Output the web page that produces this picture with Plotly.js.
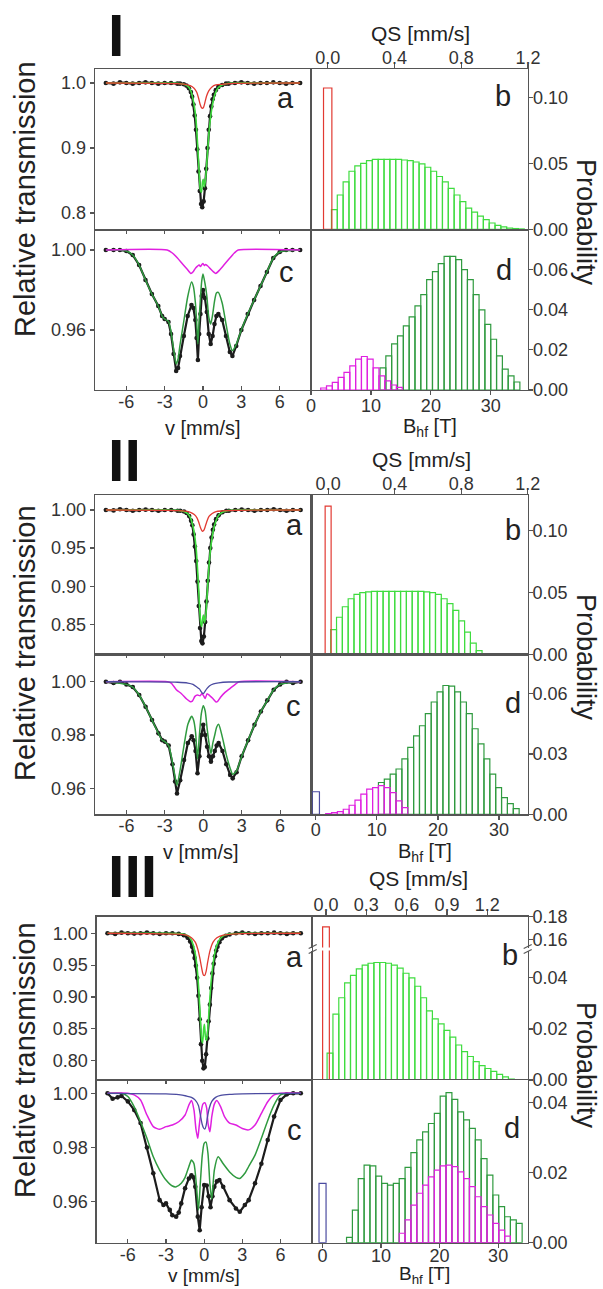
<!DOCTYPE html>
<html><head><meta charset="utf-8">
<script src="https://cdn.plot.ly/plotly-3.0.1.min.js"></script>
<style>html,body{margin:0;padding:0;background:#fff}#plot{width:603px;height:1289px}</style>
</head><body><div id="plot"></div>
<script>
// ---------------- DATA ----------------
// Section I, panel a (velocity mm/s, relative transmission)
const s1a_data_v = [-7.6,-7,-6.5,-6,-5.5,-5,-4.5,-4,-3.5,-3,-2.5,-2,-1.8,-1.5,-1.3,-1.1,-0.95,-0.85,-0.75,-0.65,-0.55,-0.45,-0.35,-0.25,-0.15,-0.06,0.05,0.15,0.25,0.35,0.45,0.55,0.65,0.75,0.85,1.0,1.2,1.5,1.8,2.0,2.5,3,3.5,4,4.5,5,5.5,6,6.5,7,7.6];
const s1a_data_T = [1.000,0.999,1.001,1.000,0.999,1.000,1.001,1.000,0.999,1.000,1.000,0.999,0.999,0.998,0.996,0.992,0.986,0.979,0.967,0.950,0.928,0.898,0.864,0.834,0.814,0.809,0.818,0.838,0.868,0.900,0.928,0.949,0.964,0.975,0.982,0.989,0.994,0.997,0.999,0.999,1.000,1.001,1.000,0.999,1.000,1.000,1.001,1.000,0.999,1.000,1.000];
const s1a_green_v = [-7.6,-3,-2,-1.5,-1.2,-1.0,-0.85,-0.7,-0.55,-0.42,-0.3,-0.2,-0.12,-0.04,0.02,0.1,0.2,0.3,0.42,0.55,0.7,0.85,1.0,1.2,1.5,2,3,7.6];
const s1a_green_T = [1.000,1.000,0.9995,0.998,0.995,0.990,0.981,0.967,0.944,0.905,0.862,0.835,0.832,0.848,0.852,0.840,0.852,0.878,0.912,0.940,0.962,0.977,0.986,0.993,0.997,0.9995,1.000,1.000];
const s1a_red_v = [-7.6,-3,-2,-1.4,-1.0,-0.7,-0.5,-0.35,-0.22,-0.12,-0.05,0.05,0.15,0.28,0.45,0.7,1.0,1.5,2.5,7.6];
const s1a_red_T = [1.000,0.9995,0.999,0.998,0.996,0.992,0.986,0.977,0.967,0.962,0.961,0.963,0.970,0.980,0.988,0.994,0.997,0.998,0.9995,1.000];
// Section I, panel c
const s1c_data_v = [-7.6,-7,-6.5,-6,-5.5,-5,-4.5,-4,-3.5,-3.2,-3,-2.7,-2.5,-2.3,-2.1,-1.95,-1.8,-1.5,-1.2,-0.9,-0.75,-0.6,-0.5,-0.4,-0.3,-0.2,-0.1,0,0.15,0.3,0.45,0.6,0.75,0.9,1.05,1.2,1.5,1.8,2.1,2.3,2.6,3,3.5,4,4.5,5,5.5,6,6.5,7,7.6];
const s1c_data_T = [1.000,1.000,1.000,0.9995,0.9975,0.9925,0.985,0.978,0.972,0.967,0.9655,0.964,0.958,0.948,0.9395,0.941,0.947,0.957,0.967,0.9725,0.971,0.965,0.956,0.945,0.958,0.968,0.977,0.980,0.976,0.969,0.958,0.953,0.957,0.963,0.967,0.968,0.965,0.957,0.949,0.947,0.952,0.960,0.968,0.975,0.982,0.989,0.996,0.999,1.000,1.000,1.000];
const s1c_green_v = [-7.6,-6,-5.5,-5,-4.5,-4,-3.5,-3.2,-3,-2.7,-2.5,-2.3,-2.1,-1.95,-1.8,-1.5,-1.2,-0.9,-0.75,-0.6,-0.5,-0.4,-0.3,-0.2,-0.1,0,0.15,0.3,0.45,0.6,0.75,0.9,1.05,1.2,1.5,1.8,2.1,2.3,2.6,3,3.5,4,4.5,5,5.5,6,7.6];
const s1c_green_T = [1.000,0.9995,0.9975,0.9925,0.985,0.978,0.972,0.967,0.9655,0.9643,0.959,0.9505,0.943,0.9455,0.9525,0.9645,0.9765,0.984,0.9817,0.974,0.9645,0.953,0.9655,0.976,0.9844,0.988,0.9835,0.977,0.9665,0.963,0.9675,0.9743,0.9785,0.9788,0.9735,0.963,0.953,0.9497,0.9528,0.960,0.968,0.975,0.982,0.989,0.996,0.999,1.000];
const s1c_mag_v = [-7.6,-2.8,-2.4,-2.0,-1.6,-1.25,-0.95,-0.75,-0.6,-0.45,-0.3,-0.2,-0.1,0,0.1,0.2,0.35,0.55,0.8,1.0,1.3,1.7,2.1,2.45,2.75,7.6];
const s1c_mag_T = [1.000,1.000,0.9985,0.996,0.993,0.9905,0.9883,0.9893,0.9908,0.9918,0.9925,0.9917,0.9926,0.9933,0.9922,0.9928,0.9921,0.9908,0.9892,0.9883,0.990,0.993,0.996,0.9985,1.000,1.000];
// Section I, panel b (QS mm/s, probability)
const s1b_red_qs = [0.0];
const s1b_red_p = [0.107];
const s1b_green_qs = [0.040,0.075,0.110,0.145,0.180,0.215,0.250,0.285,0.320,0.355,0.390,0.425,0.460,0.495,0.530,0.565,0.600,0.635,0.670,0.705,0.740,0.775,0.810,0.845,0.880,0.915,0.950,0.985,1.020,1.055,1.090,1.125,1.160];
const s1b_green_p = [0.015,0.026,0.036,0.044,0.048,0.050,0.052,0.053,0.053,0.053,0.053,0.053,0.0525,0.052,0.051,0.0495,0.047,0.044,0.040,0.036,0.031,0.026,0.021,0.016,0.013,0.010,0.0073,0.0048,0.003,0.0018,0.001,0.0006,0.0003];
// Section I, panel d (Bhf T, probability)
const s1d_green_b = [12.00,12.97,13.94,14.92,15.89,16.86,17.83,18.80,19.78,20.75,21.72,22.69,23.66,24.64,25.61,26.58,27.55,28.52,29.50,30.47,31.44,32.41,33.38,34.36];
const s1d_green_p = [0.011,0.017,0.023,0.027,0.032,0.0365,0.042,0.0476,0.055,0.059,0.063,0.0666,0.0666,0.065,0.060,0.055,0.0476,0.040,0.0327,0.0253,0.017,0.0104,0.007,0.004];
const s1d_mag_b = [2.10,3.07,4.04,5.02,5.99,6.96,7.93,8.90,9.88,10.85,11.82,12.79,13.76,14.74];
const s1d_mag_p = [0.001,0.0021,0.0038,0.0063,0.0088,0.012,0.0154,0.0167,0.0154,0.011,0.007,0.0046,0.0025,0.0013];

// Section II
const s2a_data_v = s1a_data_v.slice();
const s2a_data_T = [1.000,0.9995,1.001,1.000,0.999,1.000,1.0005,1.000,0.999,1.000,1.000,0.999,0.999,0.998,0.996,0.992,0.986,0.980,0.968,0.952,0.933,0.906,0.874,0.845,0.828,0.825,0.834,0.853,0.880,0.907,0.931,0.950,0.964,0.974,0.981,0.988,0.993,0.997,0.999,0.999,1.000,1.0005,1.000,0.999,1.000,1.000,1.001,1.000,0.999,1.000,1.000];
const s2a_green_v = s1a_green_v.slice();
const s2a_green_T = [1.000,1.000,0.9995,0.998,0.995,0.990,0.982,0.970,0.949,0.915,0.877,0.852,0.847,0.858,0.862,0.852,0.862,0.888,0.920,0.946,0.965,0.978,0.986,0.993,0.997,0.9995,1.000,1.000];
const s2a_red_v = s1a_red_v.slice();
const s2a_red_T = [1.000,0.9996,0.9993,0.9985,0.997,0.994,0.990,0.984,0.977,0.9733,0.972,0.9735,0.978,0.985,0.9915,0.9955,0.998,0.9988,0.9996,1.000];
const s2c_data_v = [-7.6,-7,-6.5,-6,-5.5,-5,-4.5,-4,-3.5,-3.2,-3,-2.7,-2.4,-2.2,-2.05,-1.8,-1.5,-1.2,-0.9,-0.75,-0.6,-0.45,-0.3,-0.15,0,0.15,0.3,0.45,0.6,0.75,0.9,1.05,1.2,1.5,1.8,2.1,2.3,2.6,3,3.5,4,4.5,5,5.5,6,6.5,7,7.6];
const s2c_data_T = [1.000,0.9995,1.000,0.999,0.998,0.995,0.9906,0.9856,0.9806,0.978,0.9775,0.976,0.969,0.9625,0.958,0.963,0.9706,0.977,0.9795,0.978,0.974,0.9656,0.972,0.980,0.9838,0.980,0.9756,0.972,0.970,0.972,0.974,0.976,0.977,0.974,0.969,0.965,0.9637,0.966,0.972,0.978,0.9838,0.9888,0.993,0.997,0.999,1.000,0.9995,1.000];
const s2c_green_v = [-7.6,-6,-5.5,-5,-4.5,-4,-3.5,-3.2,-3,-2.7,-2.4,-2.2,-2.05,-1.8,-1.5,-1.2,-0.9,-0.75,-0.6,-0.45,-0.3,-0.15,0,0.15,0.3,0.45,0.6,0.75,0.9,1.05,1.2,1.5,1.8,2.1,2.3,2.6,3,3.5,4,4.5,5,5.5,6,7.6];
const s2c_green_T = [1.000,0.999,0.998,0.995,0.9906,0.9856,0.9806,0.978,0.9775,0.976,0.9696,0.9643,0.961,0.967,0.9761,0.984,0.987,0.9855,0.981,0.971,0.980,0.988,0.991,0.989,0.9826,0.977,0.973,0.977,0.980,0.983,0.984,0.979,0.9725,0.9675,0.9652,0.9665,0.972,0.978,0.9838,0.9888,0.993,0.997,0.999,1.000];
const s2c_mag_v = [-7.6,-2.8,-2.5,-2.1,-1.7,-1.3,-1.0,-0.85,-0.65,-0.45,-0.25,-0.1,0.05,0.15,0.3,0.5,0.75,1.0,1.1,1.35,1.7,2.1,2.5,2.8,7.6];
const s2c_mag_T = [1.000,1.000,0.9995,0.997,0.9955,0.9935,0.9925,0.9927,0.9945,0.995,0.9947,0.9956,0.9945,0.9937,0.9955,0.9948,0.9937,0.9924,0.9925,0.9942,0.996,0.9975,0.999,1.000,1.000];
const s2c_blue_v = [-7.6,-2,-1.2,-0.8,-0.5,-0.3,-0.15,-0.05,0.05,0.15,0.3,0.5,0.8,1.2,2,7.6];
const s2c_blue_T = [1.000,0.9998,0.9995,0.999,0.998,0.9973,0.9962,0.9956,0.9957,0.9965,0.9975,0.9985,0.9992,0.9996,0.9999,1.000];
const s2b_red_qs = [0.0];
const s2b_red_p = [0.120];
const s2b_green_qs = [0.033,0.068,0.103,0.138,0.173,0.208,0.243,0.278,0.313,0.348,0.383,0.418,0.453,0.488,0.523,0.558,0.593,0.628,0.663,0.698,0.733,0.768,0.803,0.838,0.873,0.908];
const s2b_green_p = [0.020,0.030,0.0385,0.045,0.0485,0.050,0.0505,0.051,0.051,0.051,0.051,0.051,0.051,0.051,0.051,0.051,0.0505,0.050,0.0485,0.045,0.041,0.0355,0.027,0.018,0.009,0.003];
const s2d_blue_b = [0];
const s2d_blue_p = [0.0112];
const s2d_mag_b = [2.10,3.06,4.02,4.98,5.94,6.90,7.86,8.82,9.78,10.74,11.70,12.66,13.62,14.58];
const s2d_mag_p = [0.0003,0.0008,0.0013,0.0025,0.0045,0.007,0.010,0.0125,0.0133,0.0142,0.0133,0.0108,0.0067,0.0033];
const s2d_green_b = [10.74,11.70,12.66,13.62,14.58,15.54,16.50,17.46,18.42,19.38,20.34,21.30,22.26,23.22,24.18,25.14,26.10,27.06,28.02,28.98,29.94,30.90,31.86,32.82];
const s2d_green_p = [0.0158,0.0175,0.020,0.0225,0.0275,0.0333,0.039,0.044,0.050,0.0558,0.0608,0.064,0.0637,0.0608,0.0558,0.050,0.0425,0.035,0.0275,0.020,0.0133,0.0083,0.0053,0.0028];

// Section III
const s3a_data_v = [-7.6,-7,-6.5,-6,-5.5,-5,-4.5,-4,-3.5,-3,-2.5,-2,-1.6,-1.3,-1.1,-0.95,-0.85,-0.75,-0.65,-0.55,-0.45,-0.35,-0.25,-0.15,-0.05,0.05,0.15,0.25,0.35,0.45,0.55,0.65,0.75,0.85,0.95,1.05,1.2,1.4,1.7,2,2.5,3,3.5,4,4.5,5,5.5,6,6.5,7,7.6];
const s3a_data_T = [1.000,0.999,1.001,1.000,0.9995,1.000,1.001,1.000,0.999,1.000,1.000,0.999,0.997,0.993,0.987,0.979,0.971,0.961,0.949,0.930,0.902,0.865,0.826,0.800,0.788,0.790,0.810,0.835,0.862,0.888,0.914,0.937,0.952,0.964,0.973,0.979,0.986,0.992,0.996,0.998,1.000,1.001,1.000,0.999,1.000,1.000,1.001,1.000,0.999,1.000,1.000];
const s3a_green_v = s1a_green_v.slice();
const s3a_green_T = [1.000,1.000,0.9995,0.998,0.995,0.989,0.981,0.968,0.945,0.910,0.866,0.834,0.828,0.850,0.857,0.838,0.832,0.852,0.890,0.925,0.952,0.970,0.981,0.990,0.996,0.999,1.000,1.000];
const s3a_red_v = s1a_red_v.slice();
const s3a_red_T = [1.000,0.9992,0.9985,0.997,0.993,0.986,0.975,0.962,0.948,0.938,0.934,0.934,0.940,0.955,0.972,0.986,0.993,0.997,0.9992,1.000];
const s3c_data_v = [-7.6,-7.2,-6.8,-6.5,-6,-5.5,-5,-4.5,-4,-3.5,-3.2,-3,-2.7,-2.5,-2.2,-2,-1.8,-1.5,-1.2,-1,-0.85,-0.7,-0.5,-0.35,-0.2,0,0.2,0.35,0.5,0.65,0.8,1.0,1.2,1.5,2,2.5,2.8,3.2,3.5,4,4.5,5,5.5,6,6.5,7,7.6];
const s3c_data_T = [1.000,0.998,0.9985,0.999,0.997,0.9938,0.989,0.980,0.9705,0.9606,0.9588,0.9594,0.957,0.955,0.9545,0.956,0.9594,0.965,0.9686,0.9698,0.969,0.9655,0.9545,0.9495,0.958,0.9662,0.966,0.962,0.958,0.962,0.9655,0.9675,0.968,0.9655,0.9606,0.9575,0.9563,0.9588,0.9606,0.9668,0.974,0.9828,0.9914,0.9975,0.9996,1.000,1.000];
const s3c_green_v = [-7.6,-6.5,-6,-5.5,-5,-4.5,-4,-3.5,-3,-2.5,-2.2,-1.8,-1.5,-1.2,-1,-0.8,-0.6,-0.45,-0.3,-0.15,0,0.15,0.3,0.45,0.6,0.8,1.1,1.5,2,2.5,2.8,3.2,3.5,4,4.5,5,5.5,6,6.5,7.6];
const s3c_green_T = [1.000,1.000,0.9988,0.995,0.9895,0.9834,0.9766,0.9717,0.968,0.9658,0.9655,0.9668,0.969,0.973,0.9754,0.974,0.9655,0.957,0.967,0.977,0.9815,0.982,0.9778,0.9668,0.961,0.9717,0.9766,0.974,0.971,0.969,0.9686,0.9705,0.973,0.9772,0.9834,0.990,0.9957,0.9994,1.000,1.000];
const s3c_mag_v = [-7.6,-6,-5.5,-5,-4.5,-4,-3.5,-3,-2.5,-2,-1.5,-1.2,-1,-0.8,-0.65,-0.5,-0.4,-0.3,-0.1,0.05,0.2,0.3,0.45,0.6,0.8,1.0,1.3,1.6,2,2.5,3,3.5,4,4.5,5,5.5,6,7.6];
const s3c_mag_T = [1.000,1.000,0.9994,0.9975,0.992,0.9877,0.9867,0.9877,0.9883,0.9895,0.992,0.9957,0.9973,0.9938,0.987,0.9834,0.9875,0.9914,0.996,0.9965,0.9945,0.989,0.9858,0.9914,0.996,0.9973,0.995,0.9914,0.989,0.9883,0.987,0.9865,0.9883,0.9926,0.9969,0.9994,1.000,1.000];
const s3c_blue_v = [-7.6,-3,-2,-1.4,-1,-0.7,-0.45,-0.3,-0.15,-0.05,0.05,0.15,0.25,0.4,0.6,0.9,1.3,2,3,7.6];
const s3c_blue_T = [1.000,0.9998,0.9995,0.999,0.9985,0.9975,0.9955,0.992,0.9885,0.9872,0.9868,0.988,0.991,0.9945,0.997,0.9985,0.9992,0.9996,0.9998,1.000];
const s3b_red_qs = [0.0];
const s3b_red_p = [0.171];
const s3b_green_qs = [0.030,0.0735,0.117,0.1605,0.204,0.2475,0.291,0.3345,0.378,0.4215,0.465,0.5085,0.552,0.5955,0.639,0.6825,0.726,0.7695,0.813,0.8565,0.900,0.9435,0.987,1.0305,1.074,1.1175,1.161,1.2045,1.248,1.2915,1.335,1.3785];
const s3b_green_p = [0.0105,0.0258,0.0322,0.038,0.041,0.0435,0.045,0.0457,0.046,0.046,0.0457,0.045,0.0438,0.0418,0.040,0.0367,0.0322,0.0271,0.0239,0.022,0.0194,0.0168,0.0137,0.0111,0.0092,0.0072,0.0056,0.0045,0.0034,0.0022,0.0012,0.0004];
const s3d_blue_b = [0];
const s3d_blue_p = [0.0169];
const s3d_green_b = [4.6,5.6,6.6,7.6,8.6,9.6,10.6,11.6,12.6,13.6,14.6,15.6,16.6,17.6,18.6,19.6,20.6,21.6,22.6,23.6,24.6,25.6,26.6,27.6,28.6,29.6,30.6,31.6,32.6,33.6];
const s3d_green_p = [0.0015,0.0093,0.0183,0.0221,0.0219,0.019,0.0169,0.0164,0.0169,0.0183,0.0215,0.0257,0.0293,0.0316,0.034,0.0369,0.0418,0.0428,0.0409,0.0373,0.035,0.0326,0.0293,0.024,0.0193,0.0136,0.0103,0.0074,0.0065,0.0055];
const s3d_mag_b = [13.6,14.6,15.6,16.6,17.6,18.6,19.6,20.6,21.6,22.6,23.6,24.6,25.6,26.6,27.6,28.6,29.6,30.6,31.6];
const s3d_mag_p = [0.0027,0.0065,0.0107,0.0141,0.0164,0.0188,0.0207,0.0219,0.0221,0.0217,0.0202,0.0183,0.016,0.0131,0.0103,0.0079,0.0055,0.0036,0.0019];

// tick labels
const vTicks = [-6,-3,0,3,6];
const vTickText = ['-6','-3','0','3','6'];
const bhfTicks = [0,10,20,30];

// ---------------- STYLE / LAYOUT ----------------
const FONT = "'Liberation Sans', Arial, Helvetica, sans-serif";
const W = 603, H = 1289;
const fx = p => p / W;
const fy = p => 1 - p / H;
const C = {black:'#1c1c1c', lgreen:'#3fdc3f', dgreen:'#2f9a3f', red:'#e23a32', mag:'#e020e0', blue:'#4b4ba0', axis:'#555'};

function ax(o){
  return Object.assign({showline:true, linecolor:C.axis, linewidth:1.3, mirror:true, showgrid:false, zeroline:false,
    ticks:'outside', ticklen:4, tickwidth:1.2, tickcolor:C.axis,
    tickfont:{family:FONT, size:18, color:'#333'}, fixedrange:true}, o);
}
// label standoffs (labels sit close to the frame in the reference)
const TOP = {ticklabelstandoff:-7};
const BOT = {ticklabelstandoff:-5};
const RGT = {ticklabelstandoff:-4};
function line(x,y,xa,ya,color,w){return {type:'scatter',mode:'lines',x:x,y:y,xaxis:xa,yaxis:ya,line:{color:color,width:w,shape:'spline',smoothing:0.6},hoverinfo:'skip',showlegend:false};}
function dots(x,y,xa,ya){return {type:'scatter',mode:'lines+markers',x:x,y:y,xaxis:xa,yaxis:ya,line:{color:C.black,width:2.2},marker:{color:C.black,size:4.6},hoverinfo:'skip',showlegend:false};}
function bars(x,y,xa,ya,color,w){return {type:'bar',x:x,y:y,width:w,xaxis:xa,yaxis:ya,marker:{color:'rgba(255,255,255,0)',line:{color:color,width:1.2}},hoverinfo:'skip',showlegend:false};}

const layout = {width:W, height:H, margin:{l:0,r:0,t:0,b:0}, paper_bgcolor:'#fff', plot_bgcolor:'#fff',
  showlegend:false, barmode:'overlay', font:{family:FONT, color:'#222'}, annotations:[], shapes:[]};

// section geometry in pixels
const S = [
  {L:95, M:311, R:528, T:69, Mid:230, B:390},
  {L:95, M:311.5, R:527.7, T:495, Mid:654.3, B:814.3},
  {L:96.7, M:312, R:527.7, T:916.7, Mid:1080, B:1242.7, brk:949}
];

// Section I axes
(function(){
  const g=S[0];
  layout.xaxis = ax({domain:[fx(g.L),fx(g.M)], range:[-8.45,8.45], anchor:'y', showticklabels:false, ticks:''});
  layout.yaxis = ax({domain:[fy(g.Mid),fy(g.T)], range:[0.774,1.0215], anchor:'x', tickvals:[0.8,0.9,1.0], tickformat:'.1f'});
  layout.xaxis2 = ax(Object.assign({domain:[fx(g.L),fx(g.M)], range:[-8.45,8.45], anchor:'y2', tickvals:vTicks, ticktext:vTickText, ticks:'inside', mirror:'ticks'}, BOT));
  layout.yaxis2 = ax({domain:[fy(g.B),fy(g.Mid)], range:[0.93,1.01], anchor:'x2', tickvals:[0.96,1.00], tickformat:'.2f'});
  layout.xaxis3 = ax(Object.assign({domain:[fx(g.M),fx(g.R)], range:[-0.1,1.2], side:'top', anchor:'y3', tickvals:[0,0.4,0.8,1.2], tickformat:'.1f'}, TOP));
  layout.yaxis3 = ax(Object.assign({domain:[fy(g.Mid),fy(g.T)], range:[-0.0005,0.1214], side:'right', anchor:'x3', tickvals:[0,0.05,0.10], tickformat:'.2f'}, RGT));
  layout.xaxis4 = ax(Object.assign({domain:[fx(g.M),fx(g.R)], range:[0,36.2], anchor:'y4', tickvals:bhfTicks}, BOT));
  layout.yaxis4 = ax(Object.assign({domain:[fy(g.B),fy(g.Mid)], range:[0,0.0798], side:'right', anchor:'x4', tickvals:[0,0.02,0.04,0.06], tickformat:'.2f'}, RGT));
})();
// Section II axes
(function(){
  const g=S[1];
  layout.xaxis5 = ax({domain:[fx(g.L),fx(g.M)], range:[-8.45,8.45], anchor:'y5', showticklabels:false, ticks:''});
  layout.yaxis5 = ax({domain:[fy(g.Mid),fy(g.T)], range:[0.8106,1.0197], anchor:'x5', tickvals:[0.85,0.90,0.95,1.00], tickformat:'.2f'});
  layout.xaxis6 = ax(Object.assign({domain:[fx(g.L),fx(g.M)], range:[-8.45,8.45], anchor:'y6', tickvals:vTicks, ticktext:vTickText, ticks:'inside', mirror:'ticks'}, BOT));
  layout.yaxis6 = ax({domain:[fy(g.B),fy(g.Mid)], range:[0.9502,1.0103], anchor:'x6', tickvals:[0.96,0.98,1.00], tickformat:'.2f'});
  layout.xaxis7 = ax(Object.assign({domain:[fx(g.M),fx(g.R)], range:[-0.1,1.2], side:'top', anchor:'y7', tickvals:[0,0.4,0.8,1.2], tickformat:'.1f'}, TOP));
  layout.yaxis7 = ax(Object.assign({domain:[fy(g.Mid),fy(g.T)], range:[0,0.129], side:'right', anchor:'x7', tickvals:[0,0.05,0.10], tickformat:'.2f'}, RGT));
  layout.xaxis8 = ax(Object.assign({domain:[fx(g.M),fx(g.R)], range:[-0.7,34.7], anchor:'y8', tickvals:bhfTicks}, BOT));
  layout.yaxis8 = ax(Object.assign({domain:[fy(g.B),fy(g.Mid)], range:[0,0.0795], side:'right', anchor:'x8', tickvals:[0,0.03,0.06], tickformat:'.2f'}, RGT));
})();
// Section III axes
(function(){
  const g=S[2];
  layout.xaxis9 = ax({domain:[fx(g.L),fx(g.M)], range:[-8.45,8.48], anchor:'y9', showticklabels:false, ticks:''});
  layout.yaxis9 = ax({domain:[fy(g.Mid),fy(g.T)], range:[0.7697,1.026], anchor:'x9', tickvals:[0.80,0.85,0.90,0.95,1.00], tickformat:'.2f'});
  layout.xaxis10 = ax(Object.assign({domain:[fx(g.L),fx(g.M)], range:[-8.45,8.48], anchor:'y10', tickvals:vTicks, ticktext:vTickText, ticks:'inside', mirror:'ticks'}, BOT));
  layout.yaxis10 = ax({domain:[fy(g.B),fy(g.Mid)], range:[0.9449,1.0049], anchor:'x10', tickvals:[0.96,0.98,1.00], tickformat:'.2f'});
  layout.xaxis11 = ax(Object.assign({domain:[fx(g.M),fx(g.R)], range:[-0.104,1.50], side:'top', anchor:'y13', mirror:false, tickvals:[0,0.3,0.6,0.9,1.2], tickformat:'.1f'}, TOP));
  layout.yaxis11 = ax(Object.assign({domain:[fy(g.Mid),fy(g.brk+1.5)], range:[0,0.0507], side:'right', anchor:'x11', tickvals:[0,0.02,0.04], tickformat:'.2f'}, RGT));
  layout.yaxis13 = ax(Object.assign({domain:[fy(g.brk-1.5),fy(g.T)], range:[0.153,0.18], side:'right', anchor:'x11', tickvals:[0.16,0.18], tickformat:'.2f'}, RGT));
  layout.xaxis12 = ax(Object.assign({domain:[fx(g.M),fx(g.R)], range:[-1.8,35.05], anchor:'y12', tickvals:bhfTicks}, {ticklabelstandoff:-8}));
  layout.yaxis12 = ax(Object.assign({domain:[fy(g.B),fy(g.Mid)], range:[0,0.0464], side:'right', anchor:'x12', tickvals:[0,0.02,0.04], tickformat:'.2f'}, RGT));
  // axis-break marks
  [g.M+0.7, g.R].forEach(function(xp){
    [-2.5,2.5].forEach(function(dy){
      layout.shapes.push({type:'line', xref:'paper', yref:'paper', x0:fx(xp-4), y0:fy(g.brk+dy+2), x1:fx(xp+4), y1:fy(g.brk+dy-2), line:{color:C.axis,width:1.1}});
    });
  });
})();

// ---------------- TRACES ----------------
const traces = [
  // I
  dots(s1a_data_v, s1a_data_T, 'x', 'y'),
  line(s1a_green_v, s1a_green_T, 'x', 'y', C.lgreen, 1.6),
  line(s1a_red_v, s1a_red_T, 'x', 'y', C.red, 1.3),
  dots(s1c_data_v, s1c_data_T, 'x2', 'y2'),
  line(s1c_green_v, s1c_green_T, 'x2', 'y2', C.dgreen, 1.5),
  line(s1c_mag_v, s1c_mag_T, 'x2', 'y2', C.mag, 1.5),
  bars(s1b_green_qs, s1b_green_p, 'x3', 'y3', C.lgreen, 0.035),
  bars(s1b_red_qs, s1b_red_p, 'x3', 'y3', C.red, 0.05),
  bars(s1d_green_b, s1d_green_p, 'x4', 'y4', C.dgreen, 0.972),
  bars(s1d_mag_b, s1d_mag_p, 'x4', 'y4', C.mag, 0.972),
  // II
  dots(s2a_data_v, s2a_data_T, 'x5', 'y5'),
  line(s2a_green_v, s2a_green_T, 'x5', 'y5', C.lgreen, 1.6),
  line(s2a_red_v, s2a_red_T, 'x5', 'y5', C.red, 1.3),
  dots(s2c_data_v, s2c_data_T, 'x6', 'y6'),
  line(s2c_green_v, s2c_green_T, 'x6', 'y6', C.dgreen, 1.5),
  line(s2c_mag_v, s2c_mag_T, 'x6', 'y6', C.mag, 1.5),
  line(s2c_blue_v, s2c_blue_T, 'x6', 'y6', C.blue, 1.3),
  bars(s2b_green_qs, s2b_green_p, 'x7', 'y7', C.lgreen, 0.035),
  bars(s2b_red_qs, s2b_red_p, 'x7', 'y7', C.red, 0.036),
  bars(s2d_green_b, s2d_green_p, 'x8', 'y8', C.dgreen, 0.96),
  bars(s2d_mag_b, s2d_mag_p, 'x8', 'y8', C.mag, 0.96),
  bars(s2d_blue_b, s2d_blue_p, 'x8', 'y8', C.blue, 1.2),
  // III
  dots(s3a_data_v, s3a_data_T, 'x9', 'y9'),
  line(s3a_green_v, s3a_green_T, 'x9', 'y9', C.lgreen, 1.6),
  line(s3a_red_v, s3a_red_T, 'x9', 'y9', C.red, 1.3),
  dots(s3c_data_v, s3c_data_T, 'x10', 'y10'),
  line(s3c_green_v, s3c_green_T, 'x10', 'y10', C.dgreen, 1.5),
  line(s3c_mag_v, s3c_mag_T, 'x10', 'y10', C.mag, 1.5),
  line(s3c_blue_v, s3c_blue_T, 'x10', 'y10', C.blue, 1.3),
  bars(s3b_green_qs, s3b_green_p, 'x11', 'y11', C.lgreen, 0.0435),
  bars(s3b_red_qs, s3b_red_p, 'x11', 'y11', C.red, 0.05),
  bars(s3b_red_qs, s3b_red_p, 'x11', 'y13', C.red, 0.05),
  bars(s3d_green_b, s3d_green_p, 'x12', 'y12', C.dgreen, 1.0),
  bars(s3d_mag_b, s3d_mag_p, 'x12', 'y12', C.mag, 1.0),
  bars(s3d_blue_b, s3d_blue_p, 'x12', 'y12', C.blue, 1.2)
];

// ---------------- TEXT ----------------
function ann(text, x, y, size, extra){
  layout.annotations.push(Object.assign({text:text, xref:'paper', yref:'paper', x:fx(x), y:fy(y), showarrow:false,
    xanchor:'center', yanchor:'middle', font:{family:FONT, size:size, color:'#222'}}, extra||{}));
}
const romans = ['I','II','III'];
const romanY = [36, 461.5, 876.5];
const relY = [199, 643, 1060];
const probY = [222, 657, 1065];
const qsY = [33, 459, 878];
const qsX = [420, 421, 418];
const botY = [428, 852, 1275];
const vX = [203, 201, 204];
const bX = [430, 425, 424];
const letters = [
  [[285,99.5],[503,97.5],[286,274],[504,272]],
  [[294,527],[512.5,532],[293.5,708],[512.5,705]],
  [[294.5,959],[510,957],[294.5,1132],[512,1130]]
];
for (let i=0;i<3;i++){
  ann('<b>'+romans[i]+'</b>', 106, romanY[i], 59, {xanchor:'left', font:{family:FONT,size:59,color:'#111'}});
  ann('Relative transmission', 25, relY[i], 29, {textangle:-90});
  ann('Probability', 586, probY[i], 27, {textangle:90});
  ann('QS [mm/s]', qsX[i], qsY[i], 21);
  ann('v [mm/s]', vX[i], botY[i], i===2?19:20);
  ann('B<sub>hf</sub> [T]', bX[i], botY[i], i===2?19:20);
  const L = ['a','b','c','d'];
  for (let j=0;j<4;j++) ann(L[j], letters[i][j][0], letters[i][j][1]-2, 29);
}

Plotly.newPlot('plot', traces, layout, {displayModeBar:false, staticPlot:true});
</script>
</body></html>
